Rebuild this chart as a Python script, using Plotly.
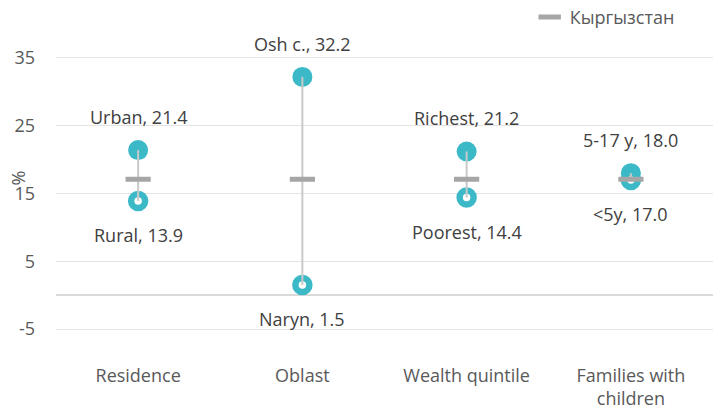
import plotly.graph_objects as go

categories = ["Residence", "Oblast", "Wealth quintile", "Families with<br>children"]
high_labels = ["Urban", "Osh c.", "Richest", "5-17 y"]
high_values = [21.4, 32.2, 21.2, 18.0]
low_labels = ["Rural", "Naryn", "Poorest", "<5y"]
low_values = [13.9, 1.5, 14.4, 17.0]
national_name = "Кыргызстан"
national_values = [17.1, 17.1, 17.1, 17.1]
y_ticks = [35, 25, 15, 5, -5]

TEAL = "#3BB9C7"
FONT = "Open Sans"
xs = list(range(len(categories)))

fig = go.Figure()

# filled markers (high)
fig.add_trace(go.Scatter(
    x=xs, y=high_values, mode="markers", showlegend=False, hoverinfo="skip",
    marker=dict(symbol="circle", size=20, color=TEAL, line=dict(width=0)),
))
# open markers (low)
fig.add_trace(go.Scatter(
    x=xs, y=low_values, mode="markers", showlegend=False, hoverinfo="skip",
    marker=dict(symbol="circle", size=14, color="white", line=dict(width=6.5, color=TEAL)),
))
# high-low lines
lx, ly = [], []
for i in xs:
    lx += [i, i, None]
    ly += [low_values[i], high_values[i], None]
fig.add_trace(go.Scatter(
    x=lx, y=ly, mode="lines", showlegend=False, hoverinfo="skip",
    line=dict(color="#C9C9C9", width=2),
))
# national dash
fig.add_trace(go.Scatter(
    x=xs, y=national_values, mode="markers", name=national_name, showlegend=True,
    hoverinfo="skip",
    marker=dict(symbol="line-ew", size=18, color="#A6A6A6",
                line=dict(width=5, color="#A6A6A6")),
))

for i in xs:
    fig.add_annotation(x=i, y=high_values[i], text=f"{high_labels[i]}, {high_values[i]:.1f}",
                       showarrow=False, yshift=33,
                       font=dict(family=FONT, size=18, color="#404040"))
    fig.add_annotation(x=i, y=low_values[i], text=f"{low_labels[i]}, {low_values[i]:.1f}",
                       showarrow=False, yshift=-34,
                       font=dict(family=FONT, size=18, color="#404040"))

fig.add_annotation(xref="paper", yref="paper", x=-0.058, y=0.547, text="%",
                   xanchor="center", yanchor="middle",
                   textangle=-90, showarrow=False,
                   font=dict(family=FONT, size=18, color="#595959"))

fig.update_layout(
    width=713, height=410,
    margin=dict(l=56, r=0, t=24, b=47, autoexpand=False),
    paper_bgcolor="white", plot_bgcolor="white",
    font=dict(family=FONT, size=18, color="#595959"),
    showlegend=True,
    legend=dict(x=0.721, xanchor="left", y=1.02, yanchor="middle",
                font=dict(family=FONT, size=18, color="#595959"),
                bgcolor="rgba(0,0,0,0)", borderwidth=0),
    xaxis=dict(range=[-0.5, 3.5], tickmode="array", tickvals=xs, ticktext=categories,
               showgrid=False, zeroline=False, showline=False, ticks="",
               tickfont=dict(family=FONT, size=18, color="#595959")),
    yaxis=dict(range=[-10, 40], tickmode="array", tickvals=y_ticks,
               ticktext=[str(v) for v in y_ticks],
               showgrid=True, gridcolor="#E3E3E3", gridwidth=1,
               zeroline=True, zerolinecolor="#D9D9D9", zerolinewidth=2,
               showline=False, ticks="", ticklabelstandoff=20,
               tickfont=dict(family=FONT, size=18, color="#595959")),
)

# remove the browser's default 8px body margin so the figure fills the window
fig.write_html("out.html", config={"displayModeBar": False},
               post_script="document.body.style.margin='0px';")
